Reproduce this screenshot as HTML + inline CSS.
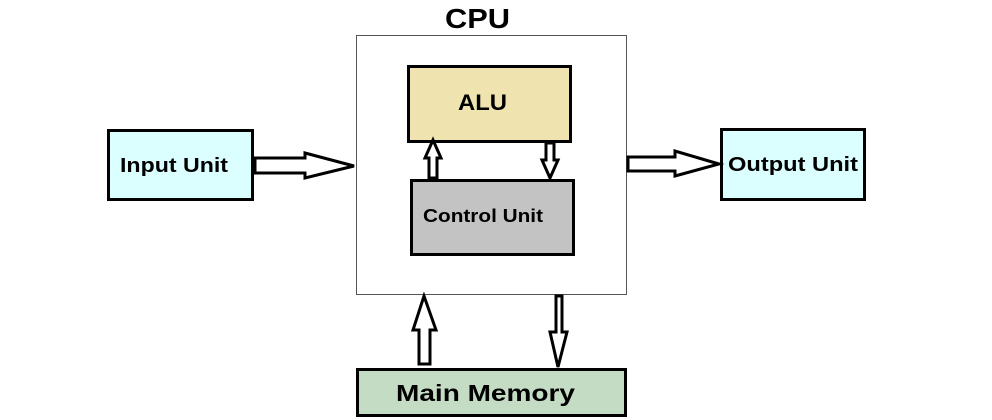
<!DOCTYPE html>
<html><head><meta charset="utf-8"><style>
html,body{margin:0;padding:0;background:#fff;}
svg{display:block;}
text{font-family:"Liberation Sans",sans-serif;font-weight:bold;fill:#000;}
</style></head><body>
<svg width="992" height="420" viewBox="0 0 992 420" xmlns="http://www.w3.org/2000/svg">
<text x="445" y="28" font-size="28" textLength="65" lengthAdjust="spacingAndGlyphs">CPU</text>
<rect x="356.5" y="35.5" width="270" height="259" fill="#fff" stroke="#555" stroke-width="1"/>
<rect x="408.5" y="66.5" width="162" height="75" fill="#efe4b0" stroke="#000" stroke-width="3"/>
<text x="458" y="110" font-size="22" textLength="49" lengthAdjust="spacingAndGlyphs">ALU</text>
<rect x="411.5" y="180.5" width="162" height="74" fill="#c3c3c3" stroke="#000" stroke-width="3"/>
<text x="423" y="222" font-size="18" textLength="120" lengthAdjust="spacingAndGlyphs">Control Unit</text>
<rect x="108.5" y="130.5" width="144" height="69" fill="#dbfffe" stroke="#000" stroke-width="3"/>
<text x="120" y="172" font-size="20" textLength="108" lengthAdjust="spacingAndGlyphs">Input Unit</text>
<rect x="721.5" y="129.5" width="143" height="70" fill="#dbfffe" stroke="#000" stroke-width="3"/>
<text x="728" y="171" font-size="20" textLength="130" lengthAdjust="spacingAndGlyphs">Output Unit</text>
<rect x="357.5" y="369.5" width="268" height="46" fill="#c4dcc4" stroke="#000" stroke-width="3"/>
<text x="396" y="401" font-size="23" textLength="179" lengthAdjust="spacingAndGlyphs">Main Memory</text>
<g fill="#fff" stroke="#000" stroke-width="3" stroke-linejoin="miter">
<polygon points="255,158 305,158 305,153 354,166 305,178 305,173 255,173"/>
<polygon points="628,157 675,157 675,151 719,164 675,176 675,171 628,171"/>
<polygon points="429,178 429,158 425,158 433,140 441,158 437,158 437,178"/>
<polygon points="546,143 546,160 542,160 550,178 558,160 554,160 554,143"/>
<polygon points="419,364 419,330 413,330 424,296 436,330 430,330 430,364"/>
<polygon points="556,296 556,332 550,332 558,367 567,332 562,332 562,296"/>
</g>
</svg>
</body></html>
